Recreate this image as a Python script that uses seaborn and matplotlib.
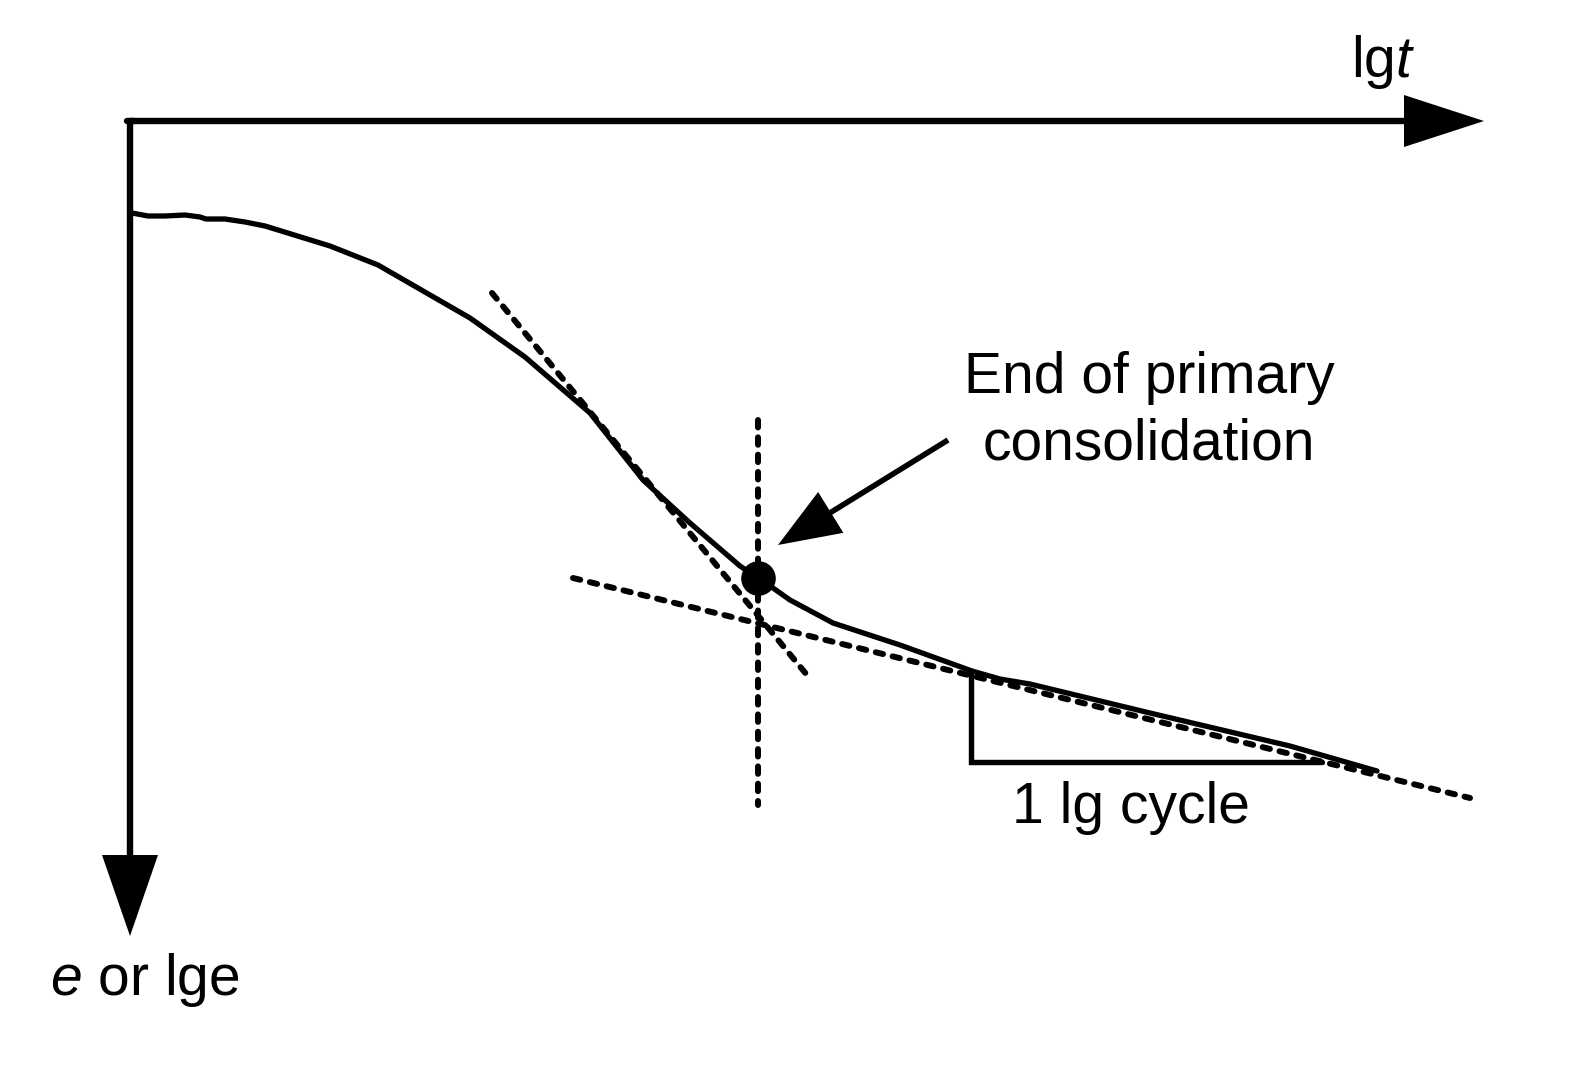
import matplotlib
matplotlib.use("Agg")
import matplotlib.pyplot as plt
import seaborn as sns
import numpy as np
import pandas as pd

# consolidation curve (canvas units, y grows downward)
curve_x = [132, 148, 165, 185, 200, 206, 225, 245, 265, 330, 378, 470, 525, 590,
           643, 690, 740, 758, 773, 790, 833, 900, 972, 1000, 1030, 1150, 1290, 1377]
curve_y = [213, 216, 216, 215, 217, 219, 219, 222, 226, 246, 265, 318, 357, 413,
           480, 523, 566, 578, 588, 600, 623, 645, 671, 679, 684, 713, 746, 771]

# construction lines
steep_tangent_x = [492, 807]
steep_tangent_y = [293, 675]
flat_tangent_x = [573, 1470]
flat_tangent_y = [578, 798]
eop_x = [758, 758]
eop_y = [420, 805]
eop_point = (758, 578)

# slope triangle
tri_x = [971, 971, 1322]
tri_y = [673, 762, 762]

# axes arrows: start, tip
x_axis = [(130, 121), (1484, 121)]
y_axis = [(130, 121), (130, 936)]
note_arrow = [(948, 440), (778, 545)]

sns.set_theme(style="white")
plt.rcParams['font.family'] = ['Liberation Sans', 'DejaVu Sans']
plt.rcParams['mathtext.fontset'] = 'custom'
plt.rcParams['mathtext.it'] = 'Liberation Sans:italic'
plt.rcParams['mathtext.rm'] = 'Liberation Sans'
plt.rcParams['text.color'] = 'black'

W, H = 1573, 1065
fig = plt.figure(figsize=(W / 100, H / 100), dpi=100)
ax = fig.add_axes([0, 0, 1, 1])


def arrow(ax, start, tip, head_len, head_w, lw):
    (x0, y0), (x1, y1) = start, tip
    d = np.hypot(x1 - x0, y1 - y0)
    ux, uy = (x1 - x0) / d, (y1 - y0) / d
    bx, by = x1 - ux * head_len, y1 - uy * head_len
    ax.plot([x0, bx + ux * 2], [y0, by + uy * 2], color='black', lw=lw,
            solid_capstyle='butt')
    ax.fill([x1, bx - uy * head_w, bx + uy * head_w],
            [y1, by + ux * head_w, by - ux * head_w], color='black', lw=0)


arrow(ax, x_axis[0], x_axis[1], 80, 26, 4.6)
arrow(ax, y_axis[0], y_axis[1], 81, 28, 4.6)
arrow(ax, note_arrow[0], note_arrow[1], 62, 24, 4.0)
# corner
ax.plot([127, 134], [121, 121], color='black', lw=4.6)

dash = dict(color='black', lw=4.3, ls=(0, (1.25, 1.65)), dash_capstyle='round')
ax.plot(steep_tangent_x, steep_tangent_y, **dash)
ax.plot(flat_tangent_x, flat_tangent_y, **dash)
ax.plot(eop_x, eop_y, **dash)

ax.plot(tri_x, tri_y, color='black', lw=3.9, solid_joinstyle='miter')

df = pd.DataFrame({'x': curve_x, 'y': curve_y})
sns.lineplot(data=df, x='x', y='y', sort=False, estimator=None, color='black',
             lw=3.8, ax=ax)
sns.scatterplot(x=[eop_point[0]], y=[eop_point[1]], s=620, color='black',
                linewidth=0, ax=ax, zorder=5)
ax.set_xlim(0, W)
ax.set_ylim(H, 0)
ax.axis('off')

fs = 41
ax.text(1149, 378, 'End of primary', fontsize=fs, ha='center', va='center')
ax.text(1149, 444, 'consolidation', fontsize=fs, ha='center', va='center')
ax.text(1131, 808, '1 lg cycle', fontsize=fs, ha='center', va='center')
ax.text(1383, 62, r'lg$\it{t}$', fontsize=fs, ha='center', va='center')
ax.text(145, 980, r'$\it{e}$ or lge', fontsize=fs, ha='center', va='center')

fig.savefig('out.png', dpi=100)
